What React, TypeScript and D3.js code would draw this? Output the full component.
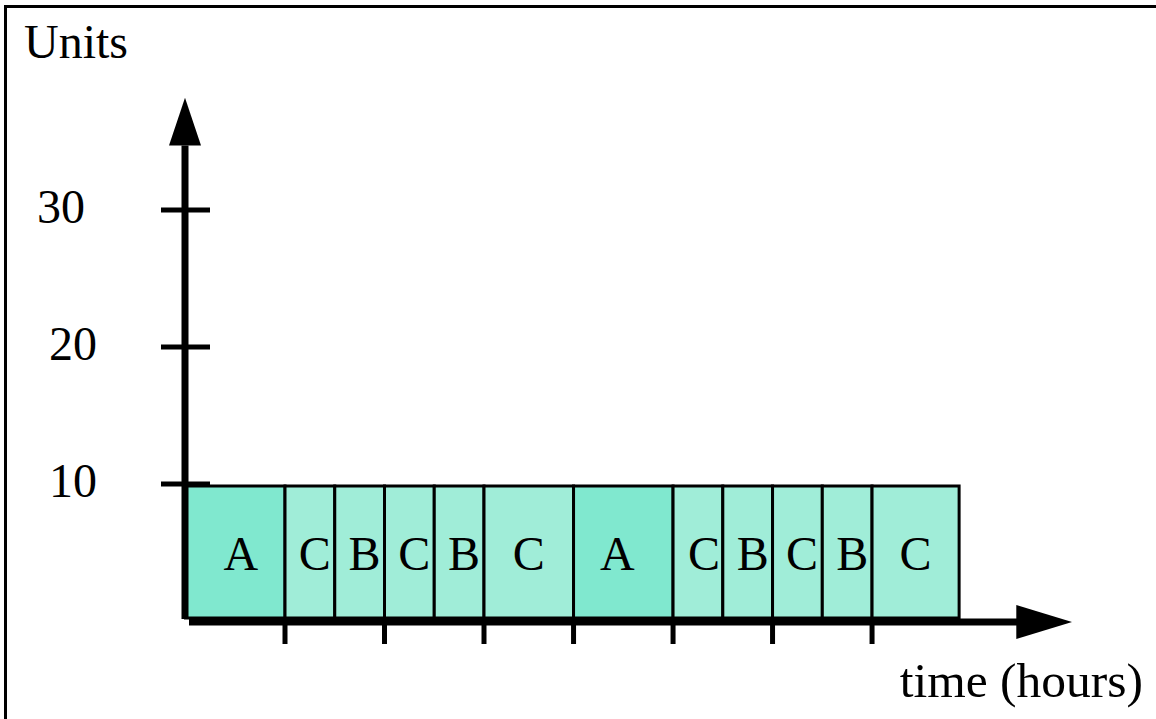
import React, { useEffect } from "react";
import * as d3 from "d3";

// ---- data ----
const taskLabels = ["A", "C", "B", "C", "B", "C", "A", "C", "B", "C", "B", "C"];
const taskDurations = [2, 1, 1, 1, 1, 1.8, 2, 1, 1, 1, 1, 1.75];
const taskUnits = [10, 10, 10, 10, 10, 10, 10, 10, 10, 10, 10, 10];
const yTickValues = [10, 20, 30];
const xTickValues = [2, 4, 6, 7.8, 9.8, 11.8, 13.8];
const yAxisLabel = "Units";
const xAxisLabel = "time (hours)";

// ---- layout / style ----
const FONT = "'Liberation Serif', 'DejaVu Serif', serif";
const colorA = "#80e8cf";
const colorOther = "#a0edd8";
const labelNudge = [5.5, 5, 5, 5, 5, 0, -6, 6, 5, 4.5, 5, 0];

export default function App() {
  useEffect(() => {
    document.body.style.margin = "0";
  }, []);

  const W = 1156;
  const H = 719;

  const x = d3.scaleLinear().domain([0, 1]).range([185.5, 185.5 + 49.75]);
  const y = d3.scaleLinear().domain([0, 30]).range([621, 210]);

  const starts: number[] = [];
  let acc = 0;
  taskDurations.forEach((d) => {
    starts.push(acc);
    acc += d;
  });

  const yAxisTop = y(34.7); // arrow base
  const yArrowTip = y(38.2);
  const xAxisEnd = x(16.8);
  const xArrowTip = x(17.82);
  const axisY = 622;
  const axisX = 185;

  const yLabelX: Record<number, number> = { 10: 97, 20: 97, 30: 85 };

  return (
    <svg width={W} height={H} style={{ display: "block", background: "#fff" }}>
      {/* frame */}
      <line x1={5.5} y1={6.5} x2={W} y2={6.5} stroke="#000" strokeWidth={3} />
      <line x1={5.5} y1={5} x2={5.5} y2={H} stroke="#000" strokeWidth={3} />

      {/* bars */}
      {taskLabels.map((lab, i) => {
        const x0 = x(starts[i]);
        const x1 = x(starts[i] + taskDurations[i]);
        const y1 = y(taskUnits[i]) + 2;
        const y0 = y(0) - 3;
        return (
          <g key={i}>
            <rect
              x={x0}
              y={y1}
              width={x1 - x0}
              height={y0 - y1}
              fill={lab === "A" ? colorA : colorOther}
              stroke="#000"
              strokeWidth={3}
            />
            <text
              x={(x0 + x1) / 2 + labelNudge[i]}
              y={570}
              textAnchor="middle"
              fontFamily={FONT}
              fontSize={48}
              fill="#000"
            >
              {lab}
            </text>
          </g>
        );
      })}

      {/* y axis */}
      <line x1={axisX} y1={619} x2={axisX} y2={yAxisTop} stroke="#000" strokeWidth={7} />
      <polygon
        points={`${axisX},${yArrowTip} ${axisX - 16},${yAxisTop} ${axisX + 16},${yAxisTop}`}
        fill="#000"
      />
      {yTickValues.map((v) => (
        <g key={v}>
          <line x1={161} x2={210} y1={y(v)} y2={y(v)} stroke="#000" strokeWidth={5} />
          <text
            x={yLabelX[v]}
            y={y(v) + 13}
            textAnchor="end"
            fontFamily={FONT}
            fontSize={48}
            fill="#000"
          >
            {v}
          </text>
        </g>
      ))}
      <text x={24} y={58} fontFamily={FONT} fontSize={48} fill="#000">
        {yAxisLabel}
      </text>

      {/* x axis */}
      <line x1={189} y1={axisY} x2={xAxisEnd} y2={axisY} stroke="#000" strokeWidth={7} />
      <polygon
        points={`${xArrowTip},${axisY} ${xAxisEnd - 5},${axisY - 17} ${xAxisEnd - 5},${axisY + 17}`}
        fill="#000"
      />
      {xTickValues.map((v) => (
        <line key={v} x1={x(v)} x2={x(v)} y1={axisY} y2={644} stroke="#000" strokeWidth={5} />
      ))}
      <text x={1143} y={697} textAnchor="end" fontFamily={FONT} fontSize={49.5} fill="#000">
        {xAxisLabel}
      </text>
    </svg>
  );
}
